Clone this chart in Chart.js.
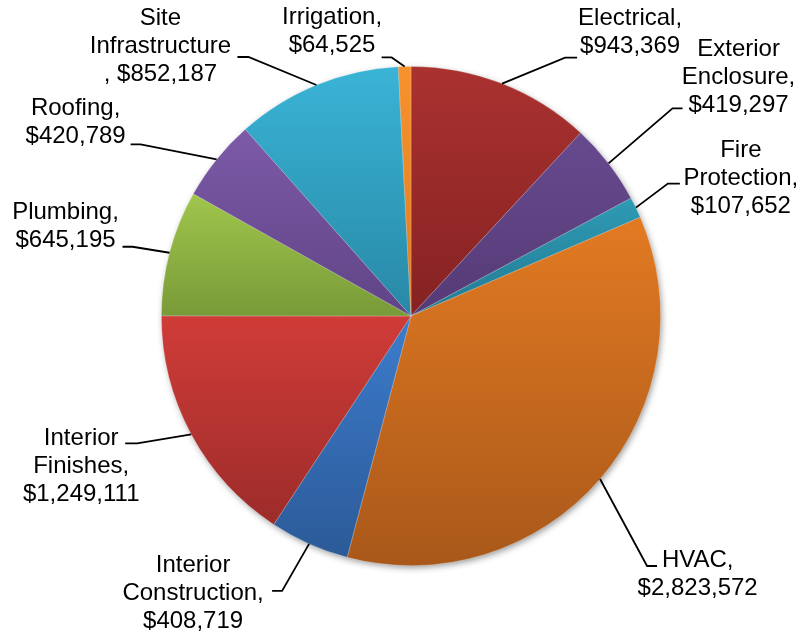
<!DOCTYPE html>
<html><head><meta charset="utf-8">
<script src="https://cdn.jsdelivr.net/npm/chart.js@4"></script>
<style>html,body{margin:0;padding:0;background:#fff}#wrap{width:801px;height:634px}</style>
</head><body><div id="wrap"><canvas id="c" width="801" height="634"></canvas></div>
<script>
// ---- data ----
const categories = ["Electrical","Exterior Enclosure","Fire Protection","HVAC","Interior Construction","Interior Finishes","Plumbing","Roofing","Site Infrastructure","Irrigation"];
const costs = [943369,419297,107652,2823572,408719,1249111,645195,420789,852187,64525];

// ---- style ----
const topColors    = ["#aa3230","#674a8e","#2e9ab4","#e27a22","#3c7ccc","#d03c38","#a0c64c","#7d5aa8","#3ab4d6","#f7922e"];
const bottomColors = ["#852222","#553a76","#237a92","#a9581a","#2c5a98","#9c2c2a","#789a38","#604486","#2888a6","#e07a20"];
const commaOnValueLine = [false,false,false,false,false,false,false,false,true,false];
// label layout relative to the slice's outer mid point
const elbowOffsets = [[63,-26],[64,-55],[32,-24],[47,87],[-27,47],[-54,9],[-37,-6],[-76,-15],[-68,-28],[-13,-9]];
const tailLengths  = [12,10,12,10,-10,-12,-10,-10,-11,-10];
const textOffsets  = [[128,-59],[130,-107],[105,-50.5],[97.6,88],[-116,28],[-110,10.5],[-104,-33.6],[-141,-44],[-156,-59.6],[-72.6,-42]];

const total = costs.reduce((a,b)=>a+b,0);

function sliceGradient(ctx){
  const chart = ctx.chart, area = chart.chartArea, i = ctx.dataIndex;
  if (!area || ctx.type !== 'data') return topColors[i];
  const ctrl = chart.getDatasetMeta(0).controller;
  const r = ctrl.outerRadius || Math.min(area.width, area.height)/2;
  const cy = (area.top + area.bottom)/2;
  let before = 0; for (let k=0;k<i;k++) before += costs[k];
  const a0 = -Math.PI/2 + 2*Math.PI*before/total;
  const a1 = a0 + 2*Math.PI*costs[i]/total;
  const ys = [cy, cy + r*Math.sin(a0), cy + r*Math.sin(a1)];
  for (const e of [-Math.PI/2, Math.PI/2, 3*Math.PI/2]) if (e>=a0 && e<=a1) ys.push(cy + r*Math.sin(e));
  const g = chart.ctx.createLinearGradient(0, Math.min(...ys), 0, Math.max(...ys));
  g.addColorStop(0, topColors[i]); g.addColorStop(1, bottomColors[i]);
  return g;
}

const shadowPlugin = {
  id:'shadow',
  beforeDatasetsDraw(chart){
    const el = chart.getDatasetMeta(0).data[0]; if(!el) return;
    const c = chart.ctx; c.save();
    c.shadowColor='rgba(0,0,0,0.45)'; c.shadowBlur=7; c.shadowOffsetX=1.5; c.shadowOffsetY=2.5;
    c.fillStyle='#888'; c.beginPath(); c.arc(el.x, el.y, el.outerRadius-1, 0, Math.PI*2); c.fill();
    c.restore();
  }
};

const labelPlugin = {
  id:'leaderLabels',
  afterDatasetsDraw(chart){
    const c = chart.ctx, meta = chart.getDatasetMeta(0);
    c.save();
    c.font = '24px "Liberation Sans", Arial, sans-serif';
    c.fillStyle = '#000'; c.strokeStyle = '#000'; c.lineWidth = 1.8;
    c.textAlign = 'center'; c.textBaseline = 'alphabetic';
    meta.data.forEach((el,i)=>{
      const mid = (el.startAngle + el.endAngle)/2;
      const px = el.x + el.outerRadius*Math.cos(mid), py = el.y + el.outerRadius*Math.sin(mid);
      const ex = px + elbowOffsets[i][0], ey = py + elbowOffsets[i][1];
      c.beginPath(); c.moveTo(px,py); c.lineTo(ex,ey); c.lineTo(ex+tailLengths[i], ey); c.stroke();
      const lines = categories[i].split(' ');
      const val = '$' + costs[i].toLocaleString('en-US');
      if (commaOnValueLine[i]) lines.push(', ' + val);
      else { lines[lines.length-1] += ','; lines.push(val); }
      const tx = px + textOffsets[i][0], ty = py + textOffsets[i][1];
      lines.forEach((ln,k)=> c.fillText(ln, tx, ty + k*28));
    });
    c.restore();
  }
};

new Chart(document.getElementById('c'), {
  type:'pie',
  data:{ labels:categories, datasets:[{ data:costs, backgroundColor:sliceGradient, borderColor:'rgba(255,255,255,0.3)', borderWidth:0.75, hoverOffset:0 }]},
  options:{
    responsive:false, animation:false,
    layout:{ padding:{ left:161, right:140, top:66, bottom:68 } },
    plugins:{ legend:{display:false}, tooltip:{enabled:false} }
  },
  plugins:[shadowPlugin, labelPlugin]
});
</script></body></html>
